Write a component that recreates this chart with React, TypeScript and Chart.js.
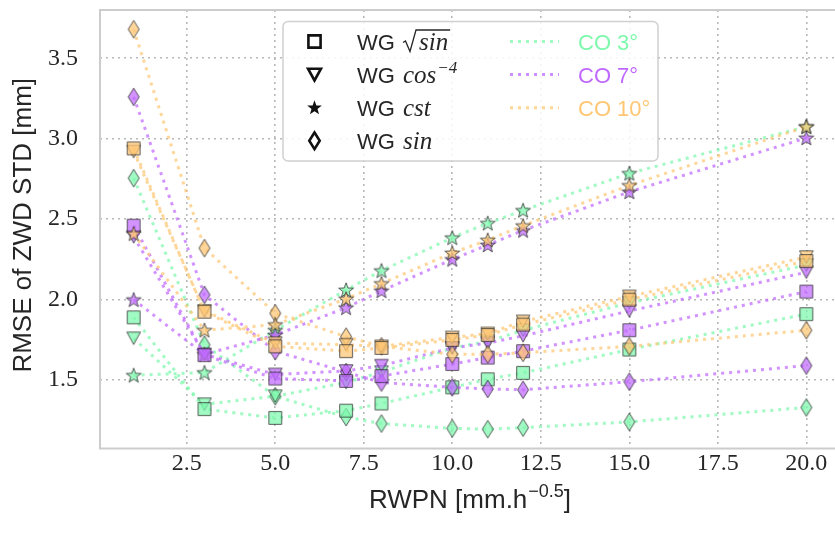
import React, { useEffect, useRef } from "react";
import { Chart, registerables } from "chart.js";

Chart.register(...registerables);

// ---------- data ----------
const xValues = [1, 3, 5, 7, 8, 10, 11, 12, 15, 20];
const xTicks = [2.5, 5.0, 7.5, 10.0, 12.5, 15.0, 17.5, 20.0];
const yTicks = [1.5, 2.0, 2.5, 3.0, 3.5];

// CO 3°
const co3Sqrt = [1.89, 1.32, 1.265, 1.31, 1.355, 1.455, 1.505, 1.545, 1.69, 1.91];
const co3Cos = [1.76, 1.35, 1.40, 1.485, 1.55, 1.70, 1.74, 1.81, 1.98, 2.215];
const co3Cst = [1.53, 1.547, 1.81, 2.06, 2.18, 2.385, 2.475, 2.555, 2.785, 3.075];
const co3Sin = [2.755, 1.72, 1.40, 1.27, 1.23, 1.20, 1.195, 1.205, 1.24, 1.33];
// CO 7°
const co7Sqrt = [2.46, 1.655, 1.51, 1.495, 1.525, 1.60, 1.64, 1.68, 1.81, 2.05];
const co7Cos = [2.39, 1.66, 1.535, 1.557, 1.59, 1.70, 1.73, 1.775, 1.93, 2.17];
const co7Cst = [2.0, 1.66, 1.78, 1.95, 2.055, 2.25, 2.34, 2.43, 2.67, 3.005];
const co7Sin = [3.26, 2.03, 1.68, 1.55, 1.485, 1.455, 1.445, 1.44, 1.49, 1.59];
// CO 10°
const co10Sqrt = [2.94, 1.925, 1.71, 1.68, 1.70, 1.75, 1.78, 1.845, 2.00, 2.24];
const co10Cos = [2.92, 1.93, 1.73, 1.72, 1.71, 1.765, 1.79, 1.865, 2.02, 2.265];
const co10Cst = [2.41, 1.81, 1.845, 2.005, 2.10, 2.29, 2.37, 2.46, 2.71, 3.075];
const co10Sin = [3.68, 2.32, 1.915, 1.77, 1.71, 1.66, 1.66, 1.67, 1.71, 1.81];

const coLabels = ["CO 3°", "CO 7°", "CO 10°"];
const wgLabels = ["sqrt", "cos", "cst", "sin"];

// ---------- styles ----------
type RGB = [number, number, number];
const GREEN: RGB = [125, 248, 172];
const PURPLE: RGB = [192, 105, 255];
const ORANGE: RGB = [255, 198, 115];
const coColors: RGB[] = [GREEN, PURPLE, ORANGE];
const rgba = (c: RGB, a: number) => `rgba(${c[0]},${c[1]},${c[2]},${a})`;

type Shape = "square" | "tri" | "star" | "diamond";
const shapes: Shape[] = ["square", "tri", "star", "diamond"];

function shapePath(ctx: CanvasRenderingContext2D, shape: Shape, k: number) {
  ctx.beginPath();
  if (shape === "square") {
    const h = 6.4 * k;
    ctx.rect(-h, -h, 2 * h, 2 * h);
  } else if (shape === "tri") {
    const w = 6.8 * k, h = 6.2 * k;
    ctx.moveTo(-w, -h);
    ctx.lineTo(w, -h);
    ctx.lineTo(0, h);
    ctx.closePath();
  } else if (shape === "star") {
    const R = 7.8 * k, r = 3.2 * k;
    for (let i = 0; i < 10; i++) {
      const ang = -Math.PI / 2 + (i * Math.PI) / 5;
      const rad = i % 2 === 0 ? R : r;
      const px = Math.cos(ang) * rad, py = Math.sin(ang) * rad + 0.6 * k;
      if (i === 0) ctx.moveTo(px, py);
      else ctx.lineTo(px, py);
    }
    ctx.closePath();
  } else {
    const w = 5.5 * k, h = 8.8 * k;
    ctx.moveTo(0, -h);
    ctx.lineTo(w, 0);
    ctx.lineTo(0, h);
    ctx.lineTo(-w, 0);
    ctx.closePath();
  }
}

function makeMarker(shape: Shape, fill: string, stroke: string, lw: number, k = 1) {
  const size = 24;
  const c = document.createElement("canvas");
  c.width = size;
  c.height = size;
  const ctx = c.getContext("2d")!;
  ctx.translate(size / 2, size / 2);
  shapePath(ctx, shape, k);
  ctx.fillStyle = fill;
  ctx.fill();
  ctx.lineWidth = lw;
  ctx.lineJoin = "miter";
  ctx.strokeStyle = stroke;
  ctx.stroke();
  return c;
}

const SANS = "'Liberation Sans', Arial, sans-serif";
const SERIF = "'Liberation Serif', serif";
const TEXT = "#262626";

// ---------- plugins ----------
const framePlugin = {
  id: "frame",
  afterDatasetsDraw(chart: any) {
    const { ctx, chartArea: a } = chart;
    ctx.save();
    ctx.strokeStyle = "#cccccc";
    ctx.lineWidth = 2;
    ctx.setLineDash([]);
    ctx.strokeRect(a.left, a.top, a.right - a.left, a.bottom - a.top);
    ctx.restore();
  },
};

const titlePlugin = {
  id: "titles",
  afterDraw(chart: any) {
    const { ctx, chartArea: a } = chart;
    ctx.save();
    ctx.fillStyle = TEXT;
    // x title with superscript
    const big = `26px ${SANS}`;
    const small = `18px ${SANS}`;
    const p1 = "RWPN [mm.h";
    const p2 = "\u22120.5";
    const p3 = "]";
    ctx.font = big;
    const w1 = ctx.measureText(p1).width;
    const w3 = ctx.measureText(p3).width;
    ctx.font = small;
    const w2 = ctx.measureText(p2).width;
    const total = w1 + w2 + w3 + 1;
    const cx = (a.left + a.right) / 2;
    const by = a.bottom + 59;
    let x = cx - total / 2;
    ctx.textBaseline = "alphabetic";
    ctx.textAlign = "left";
    ctx.font = big;
    ctx.fillText(p1, x, by);
    x += w1 + 1;
    ctx.font = small;
    ctx.fillText(p2, x, by - 11);
    x += w2;
    ctx.font = big;
    ctx.fillText(p3, x, by);
    // y title
    ctx.translate(a.left - 69, (a.top + a.bottom) / 2 - 4);
    ctx.rotate(-Math.PI / 2);
    ctx.textAlign = "center";
    ctx.font = `26px ${SANS}`;
    ctx.fillText("RMSE of ZWD STD [mm]", 0, 0);
    ctx.restore();
  },
};

const legendPlugin = {
  id: "customLegend",
  afterDraw(chart: any) {
    const { ctx, chartArea: a } = chart;
    const L = a.left + 183, T = a.top + 11.5, W = 375, H = 139.5;
    ctx.save();
    // box
    const r = 5;
    ctx.beginPath();
    ctx.moveTo(L + r, T);
    ctx.lineTo(L + W - r, T);
    ctx.arcTo(L + W, T, L + W, T + r, r);
    ctx.lineTo(L + W, T + H - r);
    ctx.arcTo(L + W, T + H, L + W - r, T + H, r);
    ctx.lineTo(L + r, T + H);
    ctx.arcTo(L, T + H, L, T + H - r, r);
    ctx.lineTo(L, T + r);
    ctx.arcTo(L, T, L + r, T, r);
    ctx.closePath();
    ctx.fillStyle = "rgba(255,255,255,0.85)";
    ctx.fill();
    ctx.strokeStyle = "#d0d0d0";
    ctx.lineWidth = 1.5;
    ctx.stroke();

    const rowY = (i: number) => T + 20 + i * 33.1;
    const mathFont = `italic 25px ${SERIF}`;
    const supFont = `italic 17px ${SERIF}`;
    const wgFont = `22px ${SANS}`;
    ctx.textBaseline = "alphabetic";
    ctx.textAlign = "left";

    for (let i = 0; i < 4; i++) {
      const cy = rowY(i);
      // marker
      ctx.save();
      ctx.translate(L + 31.5, cy);
      const k = shapes[i] === "star" ? 0.5 : 0.95;
      shapePath(ctx, shapes[i], k);
      ctx.lineWidth = 2.6;
      ctx.strokeStyle = "#111";
      ctx.lineJoin = "miter";
      ctx.fillStyle = shapes[i] === "star" ? "#111" : "rgba(255,255,255,0)";
      ctx.fill();
      ctx.stroke();
      ctx.restore();

      // label
      const by = cy + 8;
      let x = L + 74;
      ctx.fillStyle = TEXT;
      ctx.font = wgFont;
      ctx.fillText("WG", x, by);
      x += ctx.measureText("WG ").width + 2;
      const kind = wgLabels[i];
      ctx.font = mathFont;
      if (kind === "sqrt") {
        const sw = ctx.measureText("sin").width;
        ctx.save();
        ctx.strokeStyle = TEXT;
        ctx.lineWidth = 1.3;
        ctx.beginPath();
        ctx.moveTo(x, by - 7);
        ctx.lineTo(x + 2.5, by - 8.5);
        ctx.lineTo(x + 7, by + 2);
        ctx.lineTo(x + 13, by - 19.5);
        ctx.lineTo(x + 15 + sw + 3, by - 19.5);
        ctx.stroke();
        ctx.restore();
        ctx.fillText("sin", x + 16, by);
      } else if (kind === "cos") {
        ctx.fillText("cos", x, by);
        const cw = ctx.measureText("cos").width;
        ctx.font = supFont;
        ctx.fillText("\u22124", x + cw + 1, by - 10);
      } else {
        ctx.fillText(kind, x, by);
      }
    }

    for (let j = 0; j < 3; j++) {
      const cy = rowY(j);
      ctx.save();
      ctx.strokeStyle = rgba(coColors[j], 0.75);
      ctx.lineWidth = 3;
      ctx.setLineDash([3, 5]);
      ctx.beginPath();
      ctx.moveTo(L + 227, cy);
      ctx.lineTo(L + 276, cy);
      ctx.stroke();
      ctx.restore();
      ctx.fillStyle = rgba(coColors[j], 1);
      ctx.font = wgFont;
      ctx.fillText(coLabels[j], L + 295, cy + 8);
    }
    ctx.restore();
  },
};

export default function App() {
  const ref = useRef<HTMLCanvasElement | null>(null);

  useEffect(() => {
    if (!ref.current) return;
    const series: number[][][] = [
      [co3Sqrt, co3Cos, co3Cst, co3Sin],
      [co7Sqrt, co7Cos, co7Cst, co7Sin],
      [co10Sqrt, co10Cos, co10Cst, co10Sin],
    ];
    const datasets: any[] = [];
    for (let ci = 2; ci >= 0; ci--) {
      for (let si = 0; si < 4; si++) {
        const vals = series[ci][si];
        const col = coColors[ci];
        datasets.push({
          label: `${coLabels[ci]} ${wgLabels[si]}`,
          data: xValues.map((x, i) => ({ x, y: vals[i] })),
          showLine: true,
          borderColor: rgba(col, 0.72),
          borderWidth: 3,
          borderDash: [3, 5],
          borderCapStyle: "butt",
          fill: false,
          tension: 0,
          pointStyle: makeMarker(shapes[si], rgba(col, 0.72), "rgba(40,40,40,0.75)", 1),
          pointRadius: 7,
          pointHoverRadius: 7,
        });
      }
    }
    const gridColor = "rgba(180,180,180,0.95)";
    const chart = new Chart(ref.current, {
      type: "scatter",
      data: { datasets },
      options: {
        responsive: false,
        animation: false,
        layout: { padding: { left: 0, top: 6, right: 6, bottom: 0 } },
        plugins: { legend: { display: false }, tooltip: { enabled: false } },
        scales: {
          x: {
            type: "linear",
            min: 0.05,
            max: 20.95,
            afterBuildTicks: (s: any) => {
              s.ticks = xTicks.map((v) => ({ value: v }));
            },
            afterFit: (s: any) => {
              s.height = 86.5;
              s.paddingLeft = 0;
              s.paddingRight = 0;
            },
            grid: { color: gridColor, lineWidth: 1.6, drawTicks: false },
            border: { display: false, dash: [2, 4] },
            ticks: {
              padding: 1,
              autoSkip: false,
              maxRotation: 0,
              color: TEXT,
              font: { family: SERIF, size: 24 },
              callback: (v: any) => Number(v).toFixed(1),
            },
          },
          y: {
            type: "linear",
            min: 1.075,
            max: 3.8,
            afterBuildTicks: (s: any) => {
              s.ticks = yTicks.map((v) => ({ value: v }));
            },
            afterFit: (s: any) => {
              s.width = 100;
              s.paddingTop = 0;
              s.paddingBottom = 0;
            },
            grid: { color: gridColor, lineWidth: 1.6, drawTicks: false },
            border: { display: false, dash: [2, 4] },
            ticks: {
              padding: 22,
              color: TEXT,
              font: { family: SERIF, size: 24 },
              callback: (v: any) => Number(v).toFixed(1),
            },
          },
        },
      },
      plugins: [framePlugin, titlePlugin, legendPlugin],
    } as any);
    return () => chart.destroy();
  }, []);

  return (
    <div
      style={{
        position: "fixed",
        left: 0,
        top: 0,
        width: 835,
        height: 535,
        overflow: "hidden",
        background: "#fff",
      }}
    >
      <canvas ref={ref} width={850} height={535} style={{ display: "block" }} />
    </div>
  );
}
